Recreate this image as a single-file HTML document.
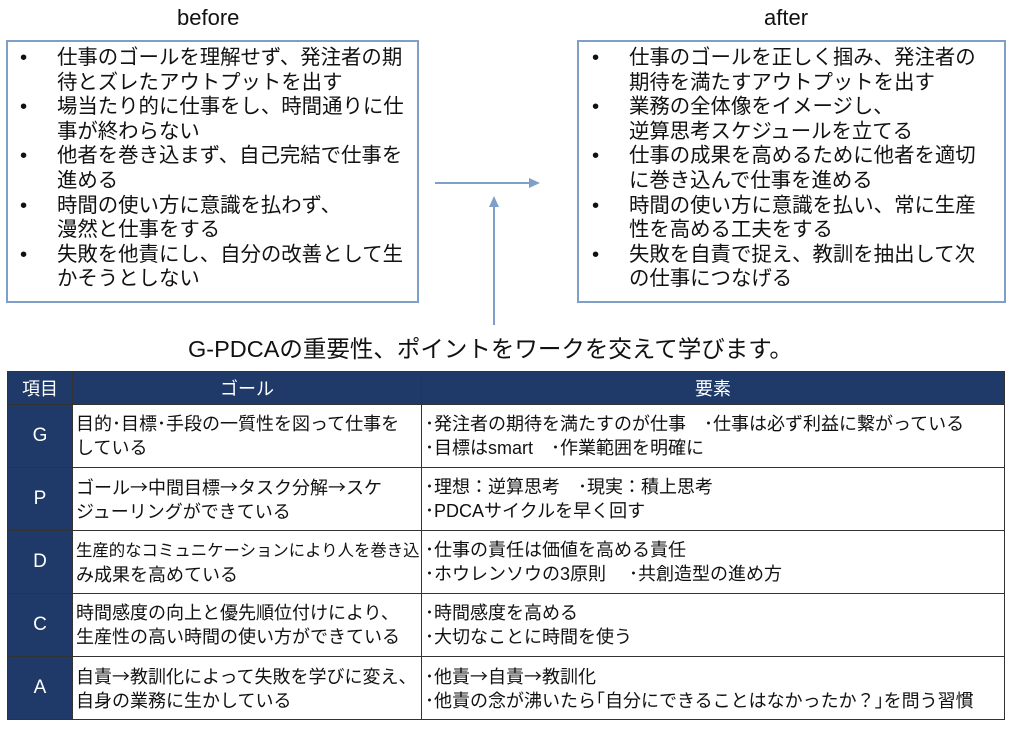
<!DOCTYPE html>
<html><head><meta charset="utf-8"><style>
body{margin:0;width:1024px;height:740px;background:#fff;position:relative;overflow:hidden;font-family:"Liberation Sans","Noto Sans CJK JP",sans-serif;color:#111}
.t{position:absolute;white-space:nowrap}
.box{position:absolute;border:2px solid #7f9fc8;box-sizing:border-box}
.b{position:absolute;font-size:20.4px;line-height:24.6px;white-space:nowrap}
table{position:absolute;left:7px;top:371px;width:998px;border-collapse:collapse;font-size:18px;table-layout:fixed}
td{border:1.5px solid #333;padding:0 0 0 3px;line-height:24px;vertical-align:middle;white-space:nowrap;overflow:hidden}
th{background:#1f3a68;color:#fff;font-weight:normal;font-size:18px;height:30px;border:1.5px solid #333}
td.k{background:#1f3a68;color:#fff;text-align:center;font-size:19px;padding:0}
tr.r td{height:62px}
.a{font-family:"Noto Sans CJK JP",sans-serif}
</style></head><body>
<div class="t" style="left:177px;top:5px;font-size:22px">before</div>
<div class="t" style="left:764px;top:5px;font-size:22px">after</div>
<div class="box" style="left:6px;top:40px;width:413px;height:263px"></div>
<div class="box" style="left:577px;top:40px;width:429px;height:263px"></div>
<div class="b" style="left:20px;top:46px">•<br><br>•<br><br>•<br><br>•<br><br>•</div>
<div class="b" style="left:57px;top:46px">仕事のゴールを理解せず、発注者の期<br>待とズレたアウトプットを出す<br>場当たり的に仕事をし、時間通りに仕<br>事が終わらない<br>他者を巻き込まず、自己完結で仕事を<br>進める<br>時間の使い方に意識を払わず、<br>漫然と仕事をする<br>失敗を他責にし、自分の改善として生<br>かそうとしない</div>
<div class="b" style="left:592px;top:46px">•<br><br>•<br><br>•<br><br>•<br><br>•</div>
<div class="b" style="left:629px;top:46px">仕事のゴールを正しく掴み、発注者の<br>期待を満たすアウトプットを出す<br>業務の全体像をイメージし、<br>逆算思考スケジュールを立てる<br>仕事の成果を高めるために他者を適切<br>に巻き込んで仕事を進める<br>時間の使い方に意識を払い、常に生産<br>性を高める工夫をする<br>失敗を自責で捉え、教訓を抽出して次<br>の仕事につなげる</div>
<svg style="position:absolute;left:0;top:0" width="1024" height="740">
<line x1="435" y1="183" x2="530" y2="183" stroke="#7f9fc8" stroke-width="2"/>
<polygon points="540,183 529,178 529,188" fill="#7f9fc8"/>
<line x1="494" y1="325" x2="494" y2="206" stroke="#7f9fc8" stroke-width="2"/>
<polygon points="494,196 489,207 499,207" fill="#7f9fc8"/>
</svg>
<div class="t" style="left:188px;top:330px;font-size:23.5px">G-PDCAの重要性、ポイントをワークを交えて学びます。</div>
<table>
<colgroup><col style="width:65px"><col style="width:349px"><col></colgroup>
<tr><th>項目</th><th>ゴール</th><th>要素</th></tr>
<tr class="r"><td class="k">G</td><td>目的･目標･手段の一質性を図って仕事を<br>している</td><td>･発注者の期待を満たすのが仕事　･仕事は必ず利益に繋がっている<br>･目標はsmart　･作業範囲を明確に</td></tr>
<tr class="r"><td class="k">P</td><td>ゴール<span class="a">→</span>中間目標<span class="a">→</span>タスク分解<span class="a">→</span>スケ<br>ジューリングができている</td><td>･理想：逆算思考　･現実：積上思考<br>･PDCAサイクルを早く回す</td></tr>
<tr class="r"><td class="k">D</td><td><span style="font-size:16.4px">生産的なコミュニケーションにより人を巻き込</span><br>み成果を高めている</td><td>･仕事の責任は価値を高める責任<br>･ホウレンソウの3原則　 ･共創造型の進め方</td></tr>
<tr class="r"><td class="k">C</td><td>時間感度の向上と優先順位付けにより、<br>生産性の高い時間の使い方ができている</td><td>･時間感度を高める<br>･大切なことに時間を使う</td></tr>
<tr class="r"><td class="k">A</td><td>自責<span class="a">→</span>教訓化によって失敗を学びに変え、<br>自身の業務に生かしている</td><td>･他責<span class="a">→</span>自責<span class="a">→</span>教訓化<br>･他責の念が沸いたら｢自分にできることはなかったか？｣を問う習慣</td></tr>
</table>
</body></html>
